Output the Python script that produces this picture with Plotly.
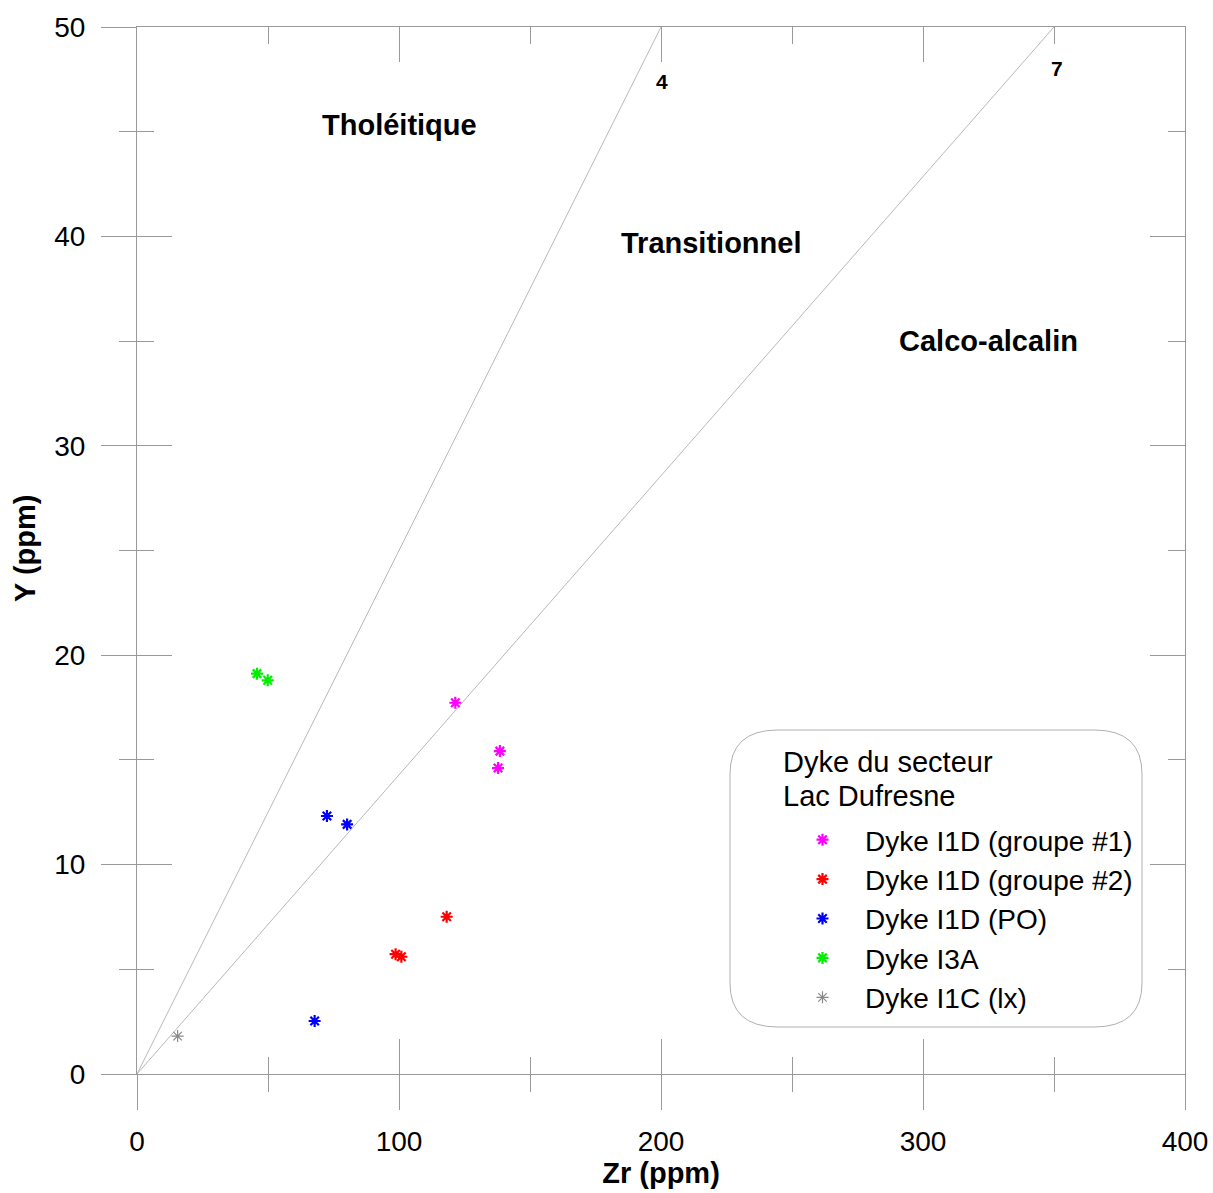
import plotly.graph_objects as go

# ---- data ----
g1_zr = [121.5, 138.5, 137.8]
g1_y = [17.73, 15.42, 14.61]
g2_zr = [118.2, 98.7, 100.9]
g2_y = [7.51, 5.72, 5.60]
po_zr = [72.5, 80.2, 67.8]
po_y = [12.32, 11.92, 2.53]
i3a_zr = [45.8, 49.9]
i3a_y = [19.12, 18.80]
i1c_zr = [15.5]
i1c_y = [1.81]

ratio_values = [4, 7]
ratio_label_x = [200.4, 351.1]
ratio_label_y = [47.4, 48.0]
y_max = 50
x_max = 400

region_names = ["Tholéitique", "Transitionnel", "Calco-alcalin"]
region_x = [100, 219, 325]
region_y = [45.3, 39.7, 35.0]

legend_title_lines = ["Dyke du secteur", "Lac Dufresne"]

series = [
    ("Dyke I1D (groupe #1)", g1_zr, g1_y, "#ff00ff"),
    ("Dyke I1D (groupe #2)", g2_zr, g2_y, "#ff0000"),
    ("Dyke I1D (PO)", po_zr, po_y, "#0000ff"),
    ("Dyke I3A", i3a_zr, i3a_y, "#00ee00"),
    ("Dyke I1C (lx)", i1c_zr, i1c_y, "#8a8a8a"),
]

FONT = "Liberation Sans, Arial, sans-serif"
AXC = "#9a9a9a"

fig = go.Figure()

# ratio lines
for r in ratio_values:
    fig.add_trace(go.Scatter(
        x=[0, y_max * r], y=[0, y_max], mode="lines",
        line=dict(color="#b8b8b8", width=1), showlegend=False, hoverinfo="skip"))

for name, xs, ys, col in series:
    fig.add_trace(go.Scatter(
        x=xs, y=ys, mode="markers", name=name,
        marker=dict(symbol="asterisk-open", size=10, color=col,
                    line=dict(color=col, width=2.2 if col != "#8a8a8a" else 1.2))))

# dummy traces to ensure overlay axes are drawn
fig.add_trace(go.Scatter(x=[None], y=[None], xaxis="x2", yaxis="y2", showlegend=False, hoverinfo="skip"))
fig.add_trace(go.Scatter(x=[None], y=[None], xaxis="x3", yaxis="y3", showlegend=False, hoverinfo="skip"))

common_x = dict(range=[0, x_max], dtick=100, tick0=0, showgrid=False, zeroline=False,
                tickcolor=AXC, tickwidth=1, linecolor=AXC, linewidth=1, automargin=False)
common_y = dict(range=[0, y_max], dtick=10, tick0=0, showgrid=False, zeroline=False,
                tickcolor=AXC, tickwidth=1, linecolor=AXC, linewidth=1, automargin=False)

fig.update_layout(
    width=1213, height=1193,
    margin=dict(l=137, r=28, t=27, b=119),
    paper_bgcolor="white", plot_bgcolor="white",
    font=dict(family=FONT, size=28, color="black"),
    xaxis=dict(**common_x, side="bottom", showline=True, ticks="outside", ticklen=35,
               minor=dict(ticks="outside", ticklen=17, dtick=50, tickcolor=AXC, showgrid=False),
               tickfont=dict(size=28), ticklabelstandoff=7,
               title=dict(text="<b>Zr (ppm)</b>", font=dict(size=29), standoff=4)),
    xaxis2=dict(**common_x, overlaying="x", side="bottom", anchor="y", showline=False,
                ticks="inside", ticklen=35, showticklabels=False,
                minor=dict(ticks="inside", ticklen=17, dtick=50, tickcolor=AXC, showgrid=False)),
    xaxis3=dict(**common_x, overlaying="x", side="top", anchor="y", showline=True,
                ticks="inside", ticklen=35, showticklabels=False,
                minor=dict(ticks="inside", ticklen=17, dtick=50, tickcolor=AXC, showgrid=False)),
    yaxis=dict(**common_y, side="left", showline=True, ticks="outside", ticklen=35,
               minor=dict(ticks="outside", ticklen=17, dtick=5, tickcolor=AXC, showgrid=False),
               tickfont=dict(size=28), ticklabelstandoff=10),
    yaxis2=dict(**common_y, overlaying="y", side="left", anchor="x", showline=False,
                ticks="inside", ticklen=35, showticklabels=False,
                minor=dict(ticks="inside", ticklen=17, dtick=5, tickcolor=AXC, showgrid=False)),
    yaxis3=dict(**common_y, overlaying="y", side="right", anchor="x", showline=True,
                ticks="inside", ticklen=35, showticklabels=False,
                minor=dict(ticks="inside", ticklen=17, dtick=5, tickcolor=AXC, showgrid=False)),
    legend=dict(
        x=(780 - 137) / 1048, y=(1074 - 815) / 1047, xanchor="left", yanchor="top",
        bgcolor="rgba(0,0,0,0)", borderwidth=0,
        font=dict(size=28, family=FONT), itemwidth=75,
        tracegroupgap=0),
)

# y-axis title
fig.add_annotation(x=(25 - 137) / 1048, y=(1074 - 549) / 1047, xref="paper", yref="paper",
                   text="<b>Y (ppm)</b>", textangle=-90, showarrow=False,
                   font=dict(size=29, family=FONT), xanchor="center", yanchor="middle")

# legend title lines
for i, line in enumerate(legend_title_lines):
    fig.add_annotation(x=(781 - 137) / 1048, y=(1074 - (762 + 34 * i)) / 1047,
                       xref="paper", yref="paper", text=line, showarrow=False,
                       font=dict(size=29, family=FONT), xanchor="left", yanchor="middle")

# region labels
for t, x, y in zip(region_names, region_x, region_y):
    fig.add_annotation(x=x, y=y, text=f"<b>{t}</b>", showarrow=False,
                       font=dict(size=29, family=FONT), xanchor="center", yanchor="middle")

# ratio labels
for r, lx, ly in zip(ratio_values, ratio_label_x, ratio_label_y):
    fig.add_annotation(x=lx, y=ly, text=f"<b>{r}</b>", showarrow=False,
                       font=dict(size=21, family=FONT), xanchor="center", yanchor="middle")

# rounded legend frame (paper coordinates)
x0, x1 = (730 - 137) / 1048, (1142 - 137) / 1048
y0, y1 = (1074 - 1027) / 1047, (1074 - 730) / 1047
rx, ry = 48 / 1048, 44 / 1047
path = (f"M {x0+rx},{y1} L {x1-rx},{y1} Q {x1},{y1} {x1},{y1-ry} "
        f"L {x1},{y0+ry} Q {x1},{y0} {x1-rx},{y0} L {x0+rx},{y0} "
        f"Q {x0},{y0} {x0},{y0+ry} L {x0},{y1-ry} Q {x0},{y1} {x0+rx},{y1} Z")
fig.add_shape(type="path", path=path, xref="paper", yref="paper",
              line=dict(color="#b0b0b0", width=1), layer="below")

fig.write_html("out.html")
